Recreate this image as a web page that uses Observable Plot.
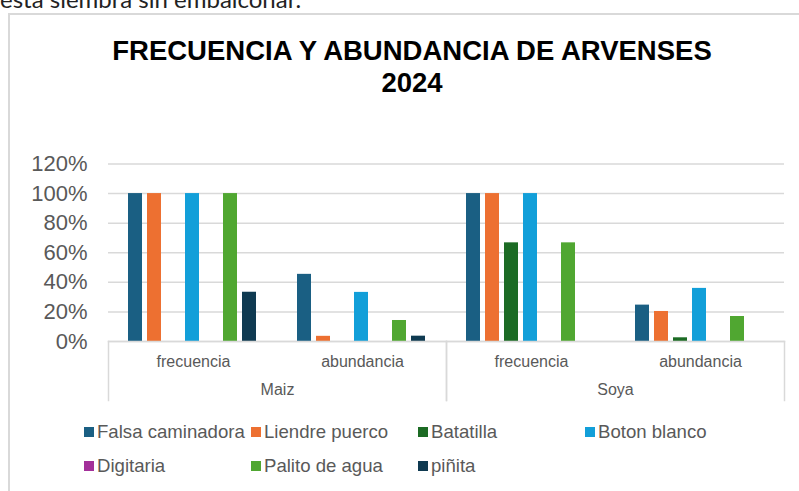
<!DOCTYPE html>
<html><head><meta charset="utf-8">
<script src="https://cdn.jsdelivr.net/npm/d3@7"></script>
<script src="https://cdn.jsdelivr.net/npm/@observablehq/plot@0.6"></script>
<style>
body{margin:0;background:#fff;width:799px;height:491px;overflow:hidden;position:relative;font-family:"Liberation Sans",Arial,sans-serif;}
#note{position:absolute;left:0;top:-13px;font-family:Lato,sans-serif;font-size:24px;line-height:24px;color:#222;white-space:nowrap;}
#box{position:absolute;left:8px;top:13px;width:900px;height:600px;border:2px solid #d9d9d9;box-sizing:border-box;}
#title{position:absolute;left:412px;top:35px;transform:translateX(-50%);text-align:center;font-weight:bold;font-size:27.5px;line-height:32px;color:#000;white-space:nowrap;}
#main{position:absolute;left:0;top:140px;}
#cat{position:absolute;left:0;top:330px;}
#legend{position:absolute;left:84px;top:415px;display:grid;grid-template-columns:repeat(4,167px);grid-auto-rows:34px;font-size:18.6px;color:#595959;}
.item{display:flex;align-items:center;white-space:nowrap;}
.sw{width:10px;height:10px;margin-right:3px;flex:none;}
</style>
</head><body>
<div id="note">esta siembra sin embalconar.</div>
<div id="box"></div>
<div id="title">FRECUENCIA Y ABUNDANCIA DE ARVENSES<br>2024</div>
<div id="main"></div>
<div id="cat"></div>
<div id="legend"></div>
<script>
const series = ["Falsa caminadora", "Liendre puerco", "Batatilla", "Boton blanco", "Digitaria", "Palito de agua", "piñita"];
const colors = ["#1a5f83", "#ed7031", "#1c6b24", "#129fd9", "#a3309a", "#50a731", "#0f3a51"];
const crops = ["Maiz", "Soya"];
const measures = ["frecuencia", "abundancia"];
const maizFrecuencia = [1.00, 1.00, 0, 1.00, 0, 1.00, 0.333];
const maizAbundancia = [0.454, 0.035, 0, 0.332, 0, 0.142, 0.036];
const soyaFrecuencia = [1.00, 1.00, 0.667, 1.00, 0, 0.667, 0];
const soyaAbundancia = [0.246, 0.203, 0.025, 0.359, 0, 0.169, 0];
const yTicks = [0, 0.2, 0.4, 0.6, 0.8, 1.0, 1.2];

const valuesByKey = {
  "Maiz|frecuencia": maizFrecuencia,
  "Maiz|abundancia": maizAbundancia,
  "Soya|frecuencia": soyaFrecuencia,
  "Soya|abundancia": soyaAbundancia
};
const keys = [];
const subRows = [];
crops.forEach(c => measures.forEach(m => { keys.push(c + "|" + m); subRows.push({crop: c, measure: m}); }));
const rows = [];
keys.forEach(k => {
  const [crop, measure] = k.split("|");
  valuesByKey[k].forEach((v, i) => rows.push({key: k, crop, measure, series: series[i], value: v}));
});

const grid = "#d9d9d9";
const main = Plot.plot({
  width: 799, height: 202,
  marginTop: 23.5, marginBottom: 1, marginLeft: 108, marginRight: 15,
  style: {fontFamily: "Liberation Sans, Arial, sans-serif", fontSize: "22px", color: "#595959", background: "transparent", overflow: "visible"},
  fx: {domain: keys, padding: 0, axis: null},
  x: {domain: series, paddingInner: 0.24, paddingOuter: 0.89, axis: null},
  y: {domain: [0, 1.2], ticks: yTicks, tickFormat: d3.format(".0%"), tickSize: 0, tickPadding: 21, label: null},
  color: {domain: series, range: colors},
  marks: [
    Plot.ruleY(yTicks, {y: d => d, stroke: grid, strokeWidth: 1.5}),
    Plot.barY(rows.filter(d => d.value > 0), {fx: "key", x: "series", y: "value", fill: "series"})
  ]
});
document.getElementById("main").appendChild(main);

const cat = Plot.plot({
  width: 799, height: 80,
  marginTop: 11, marginBottom: 10, marginLeft: 108, marginRight: 15,
  style: {fontFamily: "Liberation Sans, Arial, sans-serif", fontSize: "16px", color: "#595959", background: "transparent", overflow: "visible"},
  fx: {domain: crops, padding: 0, axis: null},
  x: {type: "point", domain: measures, padding: 0.5, axis: null},
  marks: [
    Plot.frame({anchor: "top", stroke: grid, strokeWidth: 1.5}),
    Plot.frame({anchor: "left", stroke: grid, strokeWidth: 1.5}),
    Plot.frame({anchor: "right", stroke: grid, strokeWidth: 1.5}),
    Plot.text(subRows, {fx: "crop", x: "measure", text: "measure", frameAnchor: "top", lineAnchor: "middle", dy: 20.5, fontSize: 16, fill: "#595959"}),
    Plot.text(crops, {fx: d => d, text: d => d, frameAnchor: "top", lineAnchor: "middle", dy: 48, fontSize: 16, fill: "#595959"})
  ]
});
document.getElementById("cat").appendChild(cat);

const legend = document.getElementById("legend");
series.forEach((s, i) => {
  const item = document.createElement("div");
  item.className = "item";
  const sw = document.createElement("span");
  sw.className = "sw";
  sw.style.background = colors[i];
  const t = document.createElement("span");
  t.textContent = s;
  item.appendChild(sw); item.appendChild(t);
  legend.appendChild(item);
});
</script>
</body></html>
